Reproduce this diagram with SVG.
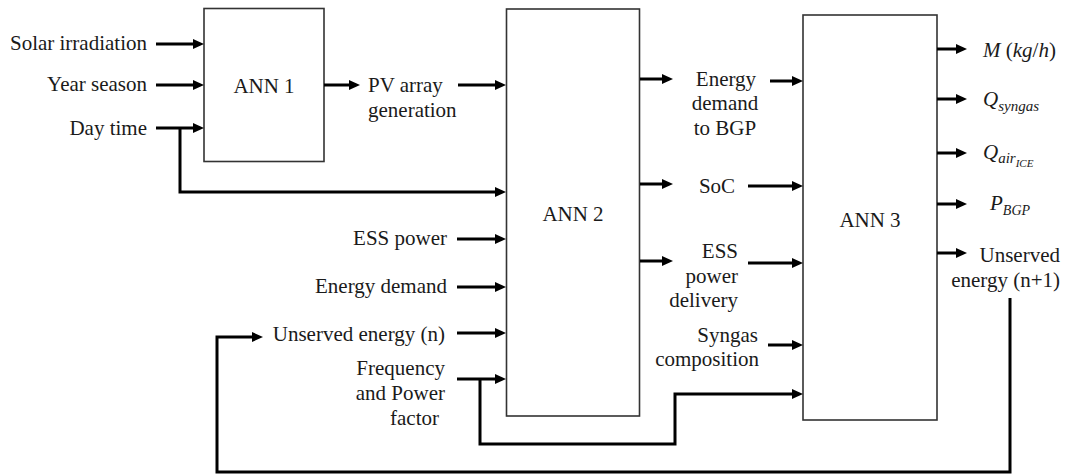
<svg xmlns="http://www.w3.org/2000/svg" width="1078" height="474" viewBox="0 0 1078 474">
<style>
.box{fill:#fff;stroke:#333;stroke-width:1.6}
.t{font-family:'Liberation Serif','Times New Roman',Times,'DejaVu Serif',serif;font-size:21px;fill:#1a1a1a}
.r{text-anchor:end}
.m{text-anchor:middle}
.it{font-style:italic}
.c{fill:none;stroke:#000;stroke-width:3;stroke-linejoin:miter}
</style>
<defs>
<marker id="ah" viewBox="0 0 11 10" refX="2" refY="5" markerWidth="11" markerHeight="10" markerUnits="userSpaceOnUse" orient="auto">
<path d="M0,0 L11,5 L0,10 z" fill="#000"/>
</marker>
</defs>
<g id="ann1">
<rect class="box" x="204" y="8.5" width="120" height="153"/>
<text class="t m" x="264" y="93">ANN 1</text>
</g>
<g id="ann2">
<rect class="box" x="506.5" y="9" width="133" height="407"/>
<text class="t m" x="573" y="221">ANN 2</text>
</g>
<g id="ann3">
<rect class="box" x="803" y="15" width="134" height="405"/>
<text class="t m" x="870" y="227">ANN 3</text>
</g>
<g id="labels">
<text class="t r" x="147" y="50">Solar irradiation</text>
<text class="t r" x="147" y="91">Year season</text>
<text class="t r" x="147" y="135">Day time</text>
<text class="t" x="368" y="92">PV array</text>
<text class="t" x="368" y="117">generation</text>
<text class="t r" x="447" y="245">ESS power</text>
<text class="t r" x="447" y="293">Energy demand</text>
<text class="t r" x="445" y="341">Unserved energy (n)</text>
<text class="t r" x="445" y="375">Frequency</text>
<text class="t r" x="445" y="400">and Power</text>
<text class="t r" x="439" y="425">factor</text>
<text class="t m" x="726" y="86">Energy</text>
<text class="t m" x="725" y="110">demand</text>
<text class="t m" x="725" y="135">to BGP</text>
<text class="t m" x="717" y="193">SoC</text>
<text class="t r" x="738" y="258">ESS</text>
<text class="t r" x="738" y="283">power</text>
<text class="t r" x="738" y="307">delivery</text>
<text class="t r" x="758" y="342">Syngas</text>
<text class="t r" x="759" y="366">composition</text>
<text class="t" x="983" y="57"><tspan class="it">M</tspan> (<tspan class="it">kg</tspan>/<tspan class="it">h</tspan>)</text>
<text class="t it" x="983" y="106">Q<tspan font-size="15" dy="5">syngas</tspan></text>
<text class="t it" x="983" y="159">Q<tspan font-size="15" dy="4">air</tspan><tspan font-size="11" dy="4">ICE</tspan></text>
<text class="t it" x="990" y="210">P<tspan font-size="14" dy="5">BGP</tspan></text>
<text class="t r" x="1060" y="262">Unserved</text>
<text class="t r" x="1060" y="287">energy (n+1)</text>
</g>
<g id="connectors">
<path class="c" marker-end="url(#ah)" d="M156 44 H195"/>
<path class="c" marker-end="url(#ah)" d="M156 85 H195"/>
<path class="c" marker-end="url(#ah)" d="M156 128 H195"/>
<path class="c" marker-end="url(#ah)" d="M180 128 V192 H497"/>
<path class="c" marker-end="url(#ah)" d="M324 85 H351"/>
<path class="c" marker-end="url(#ah)" d="M458 85 H497"/>
<path class="c" marker-end="url(#ah)" d="M457 239 H497"/>
<path class="c" marker-end="url(#ah)" d="M457 287 H497"/>
<path class="c" marker-end="url(#ah)" d="M457 333 H497"/>
<path class="c" marker-end="url(#ah)" d="M457 379 H497"/>
<path class="c" marker-end="url(#ah)" d="M480 379 V444 H675 V394 H794"/>
<path class="c" marker-end="url(#ah)" d="M1010 298 V472 H217 V337 H254"/>
<path class="c" marker-end="url(#ah)" d="M640 79 H664"/>
<path class="c" marker-end="url(#ah)" d="M640 184 H664"/>
<path class="c" marker-end="url(#ah)" d="M640 261 H664"/>
<path class="c" marker-end="url(#ah)" d="M770 81 H794"/>
<path class="c" marker-end="url(#ah)" d="M748 186 H794"/>
<path class="c" marker-end="url(#ah)" d="M748 263 H794"/>
<path class="c" marker-end="url(#ah)" d="M768 345 H794"/>
<path class="c" marker-end="url(#ah)" d="M937 49 H958"/>
<path class="c" marker-end="url(#ah)" d="M937 99 H958"/>
<path class="c" marker-end="url(#ah)" d="M937 153 H958"/>
<path class="c" marker-end="url(#ah)" d="M937 204 H958"/>
<path class="c" marker-end="url(#ah)" d="M937 253 H958"/>
</g>
</svg>
